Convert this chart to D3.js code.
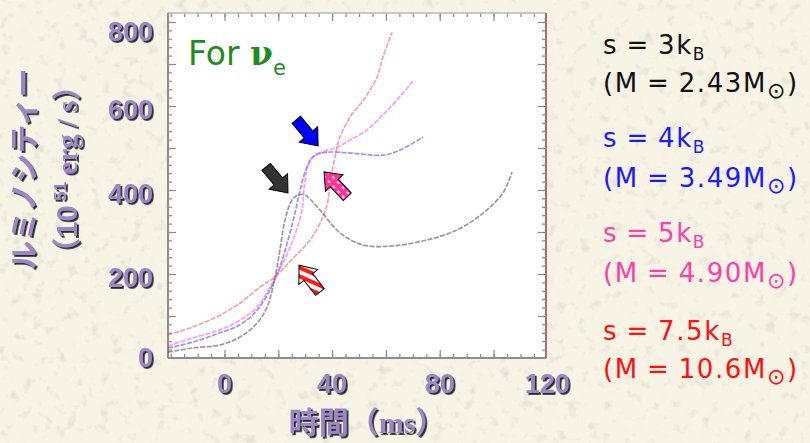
<!DOCTYPE html>
<html><head><meta charset="utf-8">
<script src="https://cdn.jsdelivr.net/npm/d3@7"></script>
<style>body{margin:0;background:#f6f3e3;} svg{display:block}</style>
</head><body><svg id="c" width="810" height="443"></svg>
<script>
// ---- data ----
const xTickLabels = [0, 40, 80, 120];
const yTickLabels = [0, 200, 400, 600, 800];
const seriesKeys = ["s3", "s4", "s5", "s7_5"];
const s3Time = [-21,-11.7,-1.7,5.8,12.1,15.8,18.8,20.6,22.5,25.1,27.3,29.9,35.5,42.9,51.5,62.6,75.3,86.4,96.1,103.5,106.9];
const s3Lum  = [14,24,31,50,83,121,193,257,329,376,388,388,352,298,269,267,281,305,345,393,443];
const s4Time = [-21,-11.7,-1.7,5.8,12.1,16.9,20.6,23.6,26.2,28.1,30.7,33.6,38.1,46.7,58.9,65.2,73.8];
const s4Lum  = [24,38,60,79,114,162,217,281,345,400,455,483,490,488,483,495,526];
const s5Time = [-21,-11.7,-1.7,5.8,12.1,16.9,21.7,25.5,28.8,29.8,31.8,36.2,41.8,46.7,53,58.9,64.1,70.1];
const s5Lum  = [29,48,67,90,121,169,226,281,352,417,471,490,502,519,543,579,614,660];
const s75Time = [-21,-11.7,-1.7,5.8,13.2,18.8,25.5,31.8,36.6,38.5,39.2,41.1,42.9,46.7,52.2,56.7,58.9,62.3];
const s75Lum  = [55,74,102,131,169,193,238,281,336,376,417,479,526,574,619,669,717,776];
const legendS = ["3", "4", "5", "7.5"];
const legendM = ["2.43", "3.49", "4.90", "10.6"];
const seriesColors = ["#333333", "#2a2aff", "#ff33ee", "#ff4040"];
const legendColors = ["#111111", "#1a1aff", "#ff3fa8", "#ff1010"];
// arrow annotations: tip in data coords (time, luminosity), direction in degrees
const arrowTime = [23.6, 34.8, 37.0, 27.7];
const arrowLum  = [393, 505, 443, 221];
const arrowDir  = [50, 50, 227, 232];
const arrowFill = ["#333333", "#0000ff", "url(#pinkDots)", "url(#redStripes)"];

// ---- layout ----
const svg = d3.select("#c");
const plot = {left:168, top:13, right:546, bottom:358};
const x = d3.scaleLinear().domain([-21, 119.5]).range([plot.left, plot.right]);
const y = d3.scaleLinear().domain([0, (358-13)/0.42]).range([plot.bottom, plot.top]);

const defs = svg.append("defs");
// background texture
const f = defs.append("filter").attr("id","tex").attr("x",0).attr("y",0).attr("width","100%").attr("height","100%");
f.append("feTurbulence").attr("type","fractalNoise").attr("baseFrequency","0.09").attr("numOctaves",3).attr("seed",7).attr("result","n");
f.append("feColorMatrix").attr("in","n").attr("type","matrix")
  .attr("values","0 0 0 0 0.62  0 0 0 0 0.61  0 0 0 0 0.55  1.8 0 0 0 -1.02");
const sh = defs.append("filter").attr("id","shadow").attr("x","-10%").attr("y","-10%").attr("width","130%").attr("height","130%");
sh.append("feDropShadow").attr("dx",1.8).attr("dy",1.8).attr("stdDeviation",0.4).attr("flood-color","#1e1e1e").attr("flood-opacity",0.95);
defs.append("clipPath").attr("id","clip").append("rect")
  .attr("x",plot.left).attr("y",plot.top).attr("width",plot.right-plot.left).attr("height",plot.bottom-plot.top);
// arrow patterns
const pd = defs.append("pattern").attr("id","pinkDots").attr("patternUnits","userSpaceOnUse").attr("width",7).attr("height",6);
pd.append("rect").attr("width",7).attr("height",6).attr("fill","#ff3399");
pd.append("ellipse").attr("cx",3.5).attr("cy",3).attr("rx",1.6).attr("ry",0.9).attr("fill","#fff");
const rs = defs.append("pattern").attr("id","redStripes").attr("patternUnits","userSpaceOnUse").attr("width",8).attr("height",8)
  .attr("patternTransform","rotate(62)");
rs.append("rect").attr("width",8).attr("height",8).attr("fill","#ff1a1a");
rs.append("rect").attr("width",4).attr("height",8).attr("fill","#ffffff");

svg.append("rect").attr("width",810).attr("height",443).attr("fill","#f7f4e5");
svg.append("rect").attr("width",810).attr("height",443).attr("filter","url(#tex)").attr("opacity",0.85);

// plot area
svg.append("rect").attr("x",plot.left).attr("y",plot.top).attr("width",plot.right-plot.left).attr("height",plot.bottom-plot.top).attr("fill","#ffffff");

// ticks via d3 axes
function tickRange(a,b,s){const r=[];for(let v=a;v<=b+1e-9;v+=s)r.push(v);return r;}
const xMinor = tickRange(-20,115,5), xMajor = tickRange(0,100,20);
const yMinor = tickRange(20,800,20), yMajor = tickRange(100,800,100);
function axisG(axis, tx, ty){
  const g = svg.append("g").attr("transform",`translate(${tx},${ty})`).call(axis);
  g.select(".domain").remove();
  g.selectAll("line").attr("stroke","#8a8a8a").attr("stroke-width",1.2);
  g.selectAll("text").remove();
}
axisG(d3.axisBottom(x).tickValues(xMinor).tickSize(-4).tickFormat(""),0,plot.bottom);
axisG(d3.axisBottom(x).tickValues(xMajor).tickSize(-8).tickFormat(""),0,plot.bottom);
axisG(d3.axisTop(x).tickValues(xMinor).tickSize(-4).tickFormat(""),0,plot.top);
axisG(d3.axisTop(x).tickValues(xMajor).tickSize(-8).tickFormat(""),0,plot.top);
axisG(d3.axisLeft(y).tickValues(yMinor).tickSize(-4).tickFormat(""),plot.left,0);
axisG(d3.axisLeft(y).tickValues(yMajor).tickSize(-8).tickFormat(""),plot.left,0);
axisG(d3.axisRight(y).tickValues(yMinor).tickSize(-4).tickFormat(""),plot.right,0);
axisG(d3.axisRight(y).tickValues(yMajor).tickSize(-8).tickFormat(""),plot.right,0);

// frame
svg.append("line").attr("x1",plot.left).attr("x2",plot.right).attr("y1",plot.top).attr("y2",plot.top).attr("stroke","#b8b8b8").attr("stroke-width",1.5);
svg.append("line").attr("x1",plot.left).attr("x2",plot.right).attr("y1",plot.bottom).attr("y2",plot.bottom).attr("stroke","#8d8d8d").attr("stroke-width",2);
svg.append("line").attr("x1",plot.left).attr("x2",plot.left).attr("y1",plot.top).attr("y2",plot.bottom).attr("stroke","#8d8d8d").attr("stroke-width",2);
svg.append("line").attr("x1",plot.right).attr("x2",plot.right).attr("y1",plot.top).attr("y2",plot.bottom).attr("stroke","#b06a6a").attr("stroke-width",2);

// curves
const series = [
  d3.zip(s3Time, s3Lum), d3.zip(s4Time, s4Lum), d3.zip(s5Time, s5Lum), d3.zip(s75Time, s75Lum)
];
const line = d3.line().x(d=>x(d[0])).y(d=>y(d[1])).curve(d3.curveCatmullRom.alpha(0.5));
const cg = svg.append("g").attr("clip-path","url(#clip)");
series.forEach((s,i)=>{
  cg.append("path").datum(s).attr("d",line).attr("fill","none")
    .attr("stroke",seriesColors[i]).attr("stroke-width",1.7).attr("stroke-opacity",0.5)
    .attr("stroke-dasharray","5,1.5");
});

// arrows
const arrowShape = [[0,0],[-15,-12],[-15,-5.5],[-34,-5.5],[-34,5.5],[-15,5.5],[-15,12]];
arrowTime.forEach((t,i)=>{
  svg.append("g").attr("transform",`translate(${x(t)},${y(arrowLum[i])}) rotate(${arrowDir[i]})`)
    .append("path").attr("d","M"+arrowShape.map(p=>p.join(",")).join("L")+"Z")
    .attr("fill",arrowFill[i]).attr("stroke","#000").attr("stroke-width",1).attr("stroke-linejoin","miter");
});

// "For nu_e"
const ft = svg.append("text").attr("x",188).attr("y",65).attr("fill","#1f8c1f")
  .attr("font-family","DejaVu Sans, sans-serif").attr("font-size",33);
ft.append("tspan").text("For ");
ft.append("tspan").attr("font-weight","bold").attr("font-family","DejaVu Serif, serif").text("ν");
ft.append("tspan").attr("font-size",21).attr("dy",10).text("e");

// tick labels with shadow
const purple = "#9c87c6";
const lab = svg.append("g").attr("filter","url(#shadow)")
  .attr("font-family","Liberation Sans, Arial, sans-serif").attr("font-weight","bold").attr("font-size",27).attr("fill",purple);
lab.selectAll(".yl").data(yTickLabels).enter().append("text")
  .attr("x",153).attr("y",d=>y(d)+ (d===800?10:(d===0?0:4))).attr("dy","0.35em").attr("text-anchor","end").text(d=>d);
lab.selectAll(".xl").data(xTickLabels).enter().append("text")
  .attr("x",d=>x(d)).attr("y",393).attr("text-anchor","middle").text(d=>d);

// axis titles
const tg = svg.append("g").attr("filter","url(#shadow)").attr("fill",purple).attr("font-weight","bold");
const xt = tg.append("text").attr("x",367).attr("y",433).attr("text-anchor","middle").attr("font-size",30);
xt.append("tspan").attr("font-family","Noto Sans CJK JP").text("時間（");
xt.append("tspan").attr("font-family","Liberation Serif, serif").text("ms");
xt.append("tspan").attr("font-family","Noto Sans CJK JP").text("）");
tg.append("text").attr("transform","translate(35,169) rotate(-90)").attr("text-anchor","middle")
  .attr("font-family","Noto Sans CJK JP").attr("font-size",29).text("ルミノシティー");
const yt2 = tg.append("text").attr("transform","translate(77,169) rotate(-90)").attr("text-anchor","middle").attr("font-size",29);
yt2.append("tspan").attr("font-family","Noto Sans CJK JP").text("（");
yt2.append("tspan").attr("font-family","Liberation Sans, sans-serif").text("10");
yt2.append("tspan").attr("font-family","Liberation Sans, sans-serif").attr("font-size",17).attr("dy",-11).text(" 51");
yt2.append("tspan").attr("font-family","Liberation Serif, serif").attr("dy",11).text(" erg / s");
yt2.append("tspan").attr("font-family","Noto Sans CJK JP").text("）");

// legend
const legY1 = [54, 147, 242, 340], legY2 = [92, 187, 282, 378];
const lg = svg.append("g").attr("font-family","DejaVu Sans, sans-serif").attr("font-size",26)
  .attr("letter-spacing",1.6).attr("word-spacing",-1.6);
legendS.forEach((s,i)=>{
  const t1 = lg.append("text").attr("x",603).attr("y",legY1[i]).attr("fill",legendColors[i]);
  t1.append("tspan").text(`s = ${s}k`);
  t1.append("tspan").attr("font-size",17).attr("dy",6).text("B");
  const t2 = lg.append("text").attr("x",603).attr("y",legY2[i]).attr("fill",legendColors[i]);
  t2.append("tspan").text(`(M = ${legendM[i]}M`);
  t2.append("tspan").attr("font-size",22).attr("dy",6).text("⊙");
  t2.append("tspan").attr("dy",-6).text(")");
});
</script></body></html>
